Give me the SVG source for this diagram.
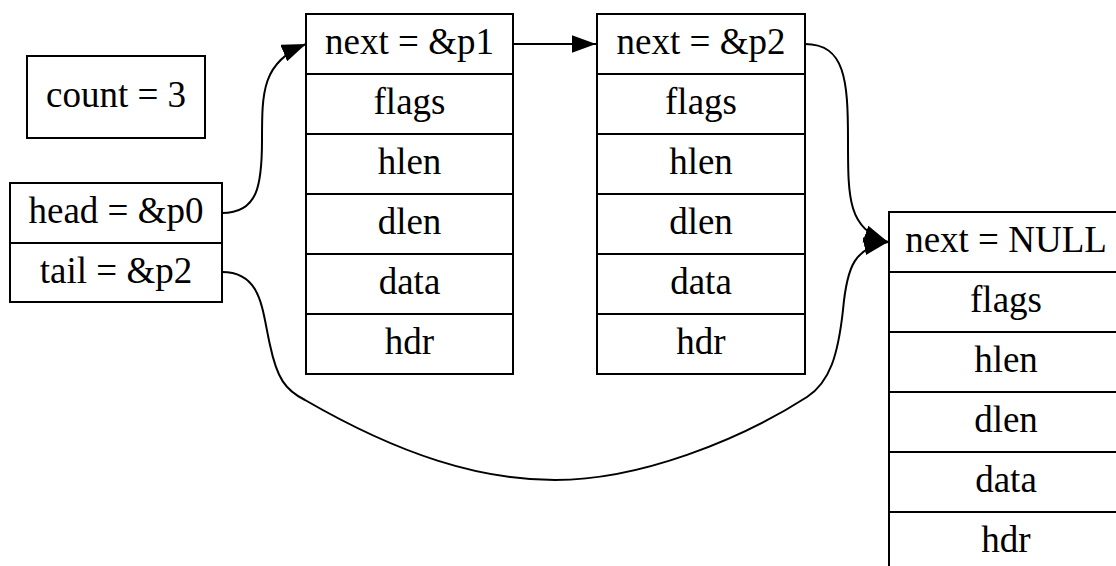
<svg xmlns="http://www.w3.org/2000/svg" width="1116" height="566" viewBox="0 0 1116 566">
<style>
.box{fill:none;stroke:#000;stroke-width:2}
.edge{fill:none;stroke:#000;stroke-width:2}
</style>
<defs>
<marker id="arr" markerUnits="userSpaceOnUse" markerWidth="24" markerHeight="18" viewBox="0 0 23 17" refX="23" refY="8.5" orient="auto">
<path d="M0,0 L23,8.5 L0,17 z" fill="#000"/>
</marker>
</defs>
<rect width="1116" height="566" fill="#fff"/>
<g font-family="Liberation Serif, Times New Roman, serif" font-size="37" text-anchor="middle" fill="#000">
<g id="count">
<rect class="box" x="27" y="56" width="178" height="82"/>
<text x="116" y="107">count = 3</text>
</g>
<g id="list">
<rect class="box" x="10" y="183" width="212" height="119"/>
<line class="box" x1="10" y1="243" x2="222" y2="243"/>
<text x="116" y="223">head = &amp;p0</text>
<text x="116" y="283">tail = &amp;p2</text>
</g>
<g id="p0">
<rect class="box" x="306" y="14" width="207" height="360"/>
<path class="box" d="M306,74H513M306,134H513M306,194H513M306,254H513M306,314H513"/>
<text x="409.5" y="54">next = &amp;p1</text>
<text x="409.5" y="114">flags</text>
<text x="409.5" y="174">hlen</text>
<text x="409.5" y="234">dlen</text>
<text x="409.5" y="294">data</text>
<text x="409.5" y="354">hdr</text>
</g>
<g id="p1">
<rect class="box" x="597" y="14" width="208" height="360"/>
<path class="box" d="M597,74H805M597,134H805M597,194H805M597,254H805M597,314H805"/>
<text x="701" y="54">next = &amp;p2</text>
<text x="701" y="114">flags</text>
<text x="701" y="174">hlen</text>
<text x="701" y="234">dlen</text>
<text x="701" y="294">data</text>
<text x="701" y="354">hdr</text>
</g>
<g id="p2">
<rect class="box" x="889" y="212" width="236" height="362"/>
<path class="box" d="M889,272H1125M889,332H1125M889,392H1125M889,452H1125M889,512H1125"/>
<text x="1006" y="252">next = NULL</text>
<text x="1006" y="312">flags</text>
<text x="1006" y="372">hlen</text>
<text x="1006" y="432">dlen</text>
<text x="1006" y="492">data</text>
<text x="1006" y="552">hdr</text>
</g>
</g>
<g id="connectors">
<path class="edge" d="M222,213 C258,213 262,185 262,140 C262,92 262,62 306,44" marker-end="url(#arr)"/>
<path class="edge" d="M513,44 L596,44" marker-end="url(#arr)"/>
<path class="edge" d="M805,44 C845,44 848,80 848,140 C848,200 848,228 888,242" marker-end="url(#arr)"/>
<path class="edge" d="M222,272 C262,272 262,310 270,345 C277,378 285,390 305,400 C400,455 480,480 555,480 C640,480 740,440 807,397 C830,382 838,355 843,310 C847,265 855,248 888,242" marker-end="url(#arr)"/>
</g>
</svg>
